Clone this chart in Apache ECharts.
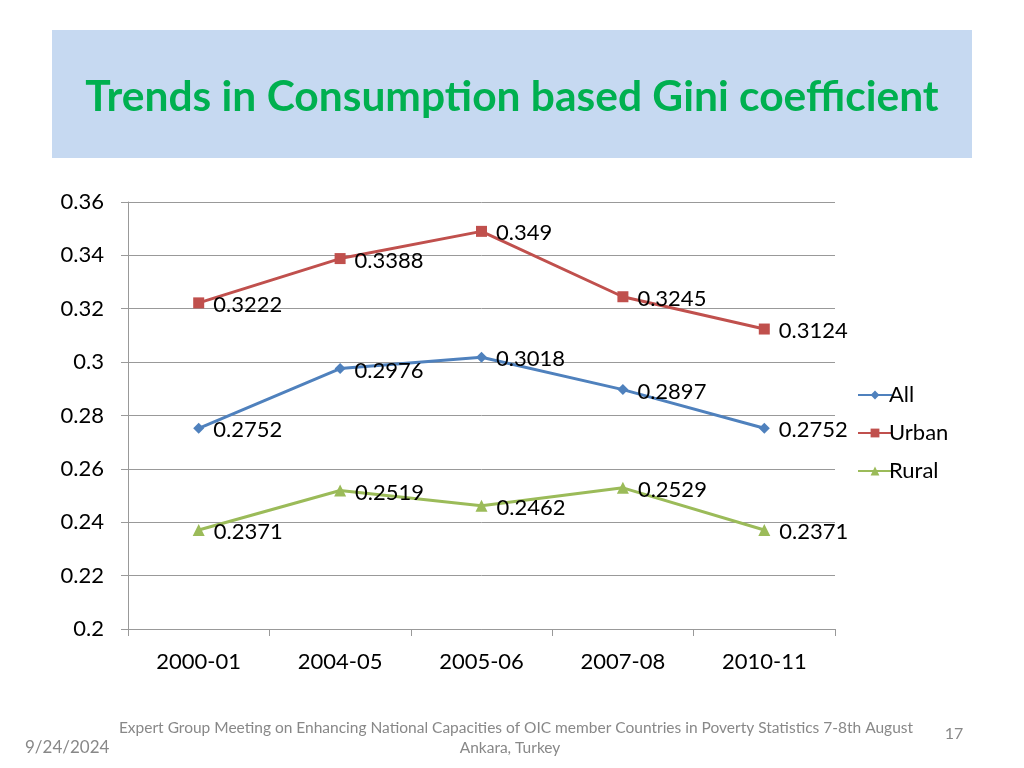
<!DOCTYPE html>
<html><head><meta charset="utf-8">
<script src="https://cdn.jsdelivr.net/npm/echarts@6/dist/echarts.min.js"></script>
<style>html,body{margin:0;padding:0;background:#fff}#c{width:1024px;height:768px}</style>
</head><body><div id="c"></div>
<script>
const categories = ['2000-01','2004-05','2005-06','2007-08','2010-11'];
const allValues = [0.2752, 0.2976, 0.3018, 0.2897, 0.2752];
const urbanValues = [0.3222, 0.3388, 0.349, 0.3245, 0.3124];
const ruralValues = [0.2371, 0.2519, 0.2462, 0.2529, 0.2371];
const seriesNames = ['All','Urban','Rural'];
const titleText = 'Trends in Consumption based Gini coefficient';
const footerLine1 = 'Expert Group Meeting on Enhancing National Capacities of OIC member Countries in Poverty Statistics 7-8th August';
const footerLine2 = 'Ankara, Turkey';
const dateText = '9/24/2024';
const pageText = '17';

const FONT = 'Lato';
const chart = echarts.init(document.getElementById('c'));
function mk(name, data, color, symbol, size) {
  return {
    name, type: 'line', data, symbol, symbolSize: size,
    lineStyle: { color, width: 3 }, itemStyle: { color },
    label: { show: true, position: 'right', distance: 9, offset:[0,2], color: '#000', fontSize: 22, fontFamily: FONT,
      formatter: p => String(p.value) },
    z: 3
  };
}
chart.setOption({
  backgroundColor: '#fff',
  animation: false,
  graphic: [
    { type: 'rect', shape: { x: 52, y: 30, width: 920, height: 128 }, style: { fill: '#C6D9F1' }, z: 0 },
    { type: 'text', x: 512, y: 97, style: { text: titleText, fill: '#00B050', font: 'bold 42.5px ' + FONT, align: 'center', verticalAlign: 'middle' } },
    { type: 'text', x: 516, y: 728, style: { text: footerLine1, fill: '#888', font: '15.5px ' + FONT, align: 'center', verticalAlign: 'middle' } },
    { type: 'text', x: 510, y: 748, style: { text: footerLine2, fill: '#888', font: '15.5px ' + FONT, align: 'center', verticalAlign: 'middle' } },
    { type: 'text', x: 25, y: 748, style: { text: dateText, fill: '#888', font: '17px ' + FONT, align: 'left', verticalAlign: 'middle' } },
    { type: 'text', x: 954, y: 734, style: { text: pageText, fill: '#888', font: '16px ' + FONT, align: 'center', verticalAlign: 'middle' } }
  ],
  grid: { left: 128, right: 189, top: 202, bottom: 139, containLabel: false },
  legend: {
    orient: 'vertical', left: 852, top: 379, itemGap: 16, itemWidth: 34, itemHeight: 11,
    textStyle: { fontSize: 22, fontFamily: FONT, color: '#000', padding: [0,0,0,-8] },
    data: seriesNames
  },
  xAxis: {
    type: 'category', data: categories, boundaryGap: true,
    axisLine: { lineStyle: { color: '#999', width: 1 } },
    axisTick: { show: true, length: 7, lineStyle: { color: '#999' } },
    axisLabel: { color: '#000', fontSize: 22, fontFamily: FONT, margin: 22 }
  },
  yAxis: {
    type: 'value', min: 0.2, max: 0.36, interval: 0.02,
    axisLine: { show: true, lineStyle: { color: '#999' } },
    axisTick: { show: true, length: 7, lineStyle: { color: '#999' } },
    axisLabel: { color: '#000', fontSize: 22, fontFamily: FONT, margin: 24,
      formatter: v => String(Math.round(v * 100) / 100) },
    splitLine: { lineStyle: { color: '#999', width: 1 } }
  },
  series: [
    mk(seriesNames[0], allValues, '#4F81BD', 'diamond', 11),
    mk(seriesNames[1], urbanValues, '#C0504D', 'rect', 11),
    mk(seriesNames[2], ruralValues, '#9BBB59', 'triangle', 12)
  ]
});
</script></body></html>
